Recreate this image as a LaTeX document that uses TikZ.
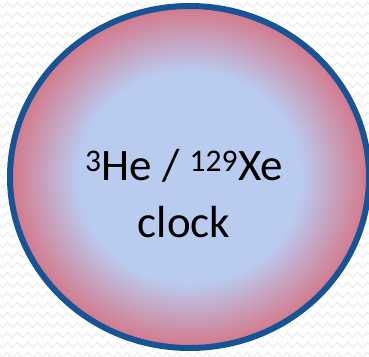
\documentclass[tikz,border=0pt]{standalone}
\usepackage{fontspec}
\setmainfont{Carlito}
\usetikzlibrary{shapes.geometric,decorations.pathmorphing}

\definecolor{clockblue}{RGB}{186,203,240}
\definecolor{clockpink}{RGB}{212,120,138}
\definecolor{rimblue}{RGB}{22,84,150}
\definecolor{wavegray}{RGB}{238,238,238}
\pgfdeclareradialshading{clockglow}{\pgfpoint{0bp}{0bp}}{color(0bp)=(clockblue); color(15.5bp)=(clockblue); color(25bp)=(clockpink); color(50bp)=(clockpink)}

\begin{document}
\begin{tikzpicture}[
  wave/.style={draw=wavegray, line width=1.2pt, decorate, decoration={zigzag, segment length=10pt, amplitude=2.5pt}},
  bubble/.style={ellipse, draw=rimblue, line width=6pt, shading=clockglow, minimum width=359pt, minimum height=342pt, inner sep=0pt},
  label/.style={align=center, font=\fontsize{45}{57}\selectfont, text=black}
]
\useasboundingbox (0,0) rectangle (369pt,-356pt);
\foreach \y in {5,15,...,355}
  \draw[wave] (-5pt,-\y pt) -- (375pt,-\y pt);

\node[bubble] (clock) at (189.5pt,-177pt) {};
\node[label] (name) at (184pt,-194pt) {\textsuperscript{3}He / \textsuperscript{129}Xe\\clock};
\end{tikzpicture}
\end{document}
